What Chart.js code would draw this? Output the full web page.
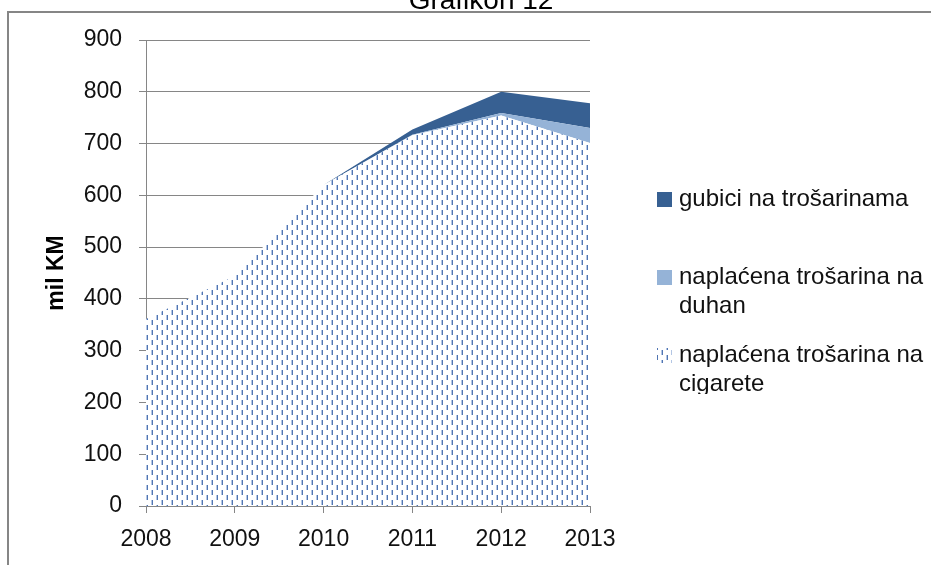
<!DOCTYPE html>
<html>
<head>
<meta charset="utf-8">
<script src="https://cdn.jsdelivr.net/npm/chart.js@4.4.1/dist/chart.umd.min.js"></script>
<style>
  body { margin: 0; background: #fff; }
  #wrap { width: 931px; height: 565px; }
</style>
</head>
<body>
<div id="wrap"><canvas id="myChart" width="931" height="565"></canvas></div>
<script>
const years = ['2008', '2009', '2010', '2011', '2012', '2013']
const cigarete = [361, 444, 620, 716, 754, 701]
const duhan = [0, 0, 0, 1, 5, 29]
const gubici = [0, 0, 0, 10, 41, 48]
const yTicks = [0, 100, 200, 300, 400, 500, 600, 700, 800, 900]

const legendItems = [
    { lines: ['gubici na trošarinama'], ds: 2 },
    { lines: ['naplaćena trošarina na', 'duhan'], ds: 1 },
    { lines: ['naplaćena trošarina na', 'cigarete'], ds: 0 }
]

const gridColor = '#868686'
const font = "'Liberation Sans', Arial, sans-serif"

// dotted fill like the excel pattern
function makePattern() {
    const tile = document.createElement('canvas')
    tile.width = 10
    tile.height = 10
    const t = tile.getContext('2d')
    t.fillStyle = '#fff'
    t.fillRect(0, 0, 10, 10)
    t.fillStyle = '#b3c6e4'
    t.fillRect(1, 0, 1, 5)
    t.fillRect(6, 5, 1, 5)
    t.fillStyle = '#5175b2'
    t.fillRect(2, 0, 1, 5)
    t.fillRect(7, 5, 1, 5)
    return document.getElementById('myChart').getContext('2d').createPattern(tile, 'repeat')
}

const dots = makePattern()

const extras = {
    id: 'extras',
    afterDraw(chart) {
        const ctx = chart.ctx
        ctx.save()
        // frame
        ctx.strokeStyle = gridColor
        ctx.lineWidth = 2
        ctx.strokeRect(8, 12, 1000, 1000)
        // title (cut at top like the source)
        ctx.fillStyle = '#000'
        ctx.font = `28px ${font}`
        ctx.textAlign = 'center'
        ctx.textBaseline = 'alphabetic'
        ctx.fillText('Grafikon 12', 481, 9)

        // legend
        ctx.beginPath()
        ctx.rect(600, 150, 331, 244)
        ctx.clip()
        ctx.font = `24px ${font}`
        ctx.textAlign = 'left'
        ctx.textBaseline = 'middle'
        const tops = [199, 277, 355]
        legendItems.forEach((item, i) => {
            const ds = chart.data.datasets[item.ds]
            ctx.fillStyle = ds.backgroundColor
            ctx.fillRect(657, tops[i] - 7, 15, 15)
            ctx.fillStyle = '#111'
            item.lines.forEach((line, j) => {
                ctx.fillText(line, 679, tops[i] + j * 29)
            })
        })
        ctx.restore()
    }
}

new Chart(document.getElementById('myChart'), {
    type: 'line',
    data: {
        labels: years,
        datasets: [
            {
                label: 'naplaćena trošarina na cigarete',
                data: cigarete,
                backgroundColor: dots,
                borderWidth: 0,
                pointRadius: 0,
                fill: 'origin'
            },
            {
                label: 'naplaćena trošarina na duhan',
                data: duhan,
                backgroundColor: '#95b3d7',
                borderWidth: 0,
                pointRadius: 0,
                fill: '-1'
            },
            {
                label: 'gubici na trošarinama',
                data: gubici,
                backgroundColor: '#376092',
                borderWidth: 0,
                pointRadius: 0,
                fill: '-1'
            }
        ]
    },
    options: {
        responsive: false,
        animation: false,
        layout: { padding: { top: 40, right: 341, bottom: 0, left: 0 } },
        plugins: {
            legend: { display: false },
            tooltip: { enabled: false }
        },
        scales: {
            x: {
                offset: false,
                grid: { drawOnChartArea: false, drawTicks: true, tickLength: 7, color: gridColor },
                border: { color: gridColor },
                ticks: { color: '#111', font: { family: font, size: 23 }, padding: 13, maxRotation: 0 },
                afterFit: scale => { scale.height = 59 }
            },
            y: {
                stacked: true,
                min: 0,
                max: 900,
                afterBuildTicks: scale => { scale.ticks = yTicks.map(v => ({ value: v })) },
                grid: { color: gridColor, tickLength: 7 },
                border: { color: gridColor },
                ticks: { color: '#111', font: { family: font, size: 23 }, padding: 17 },
                title: {
                    display: true,
                    text: 'mil KM',
                    color: '#000',
                    font: { family: font, size: 23, weight: 'bold' },
                    padding: { top: 43, bottom: 0 }
                },
                afterFit: scale => { scale.width = 146 }
            }
        }
    },
    plugins: [extras]
})
</script>
</body>
</html>
